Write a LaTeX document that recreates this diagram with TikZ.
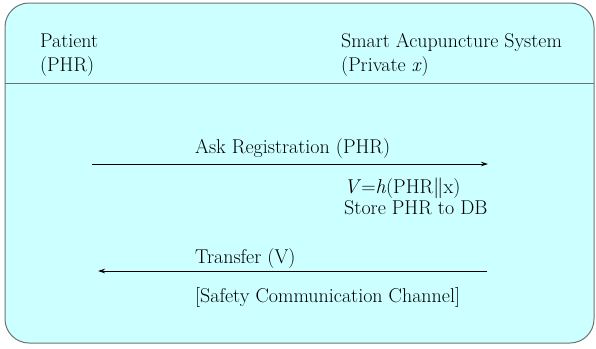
\documentclass[tikz,border=0pt]{standalone}
\usetikzlibrary{arrows.meta}
\definecolor{boxfill}{HTML}{CCFFFF}
\definecolor{boxline}{HTML}{6A7474}
\tikzset{
  lbl/.style={anchor=base west, inner sep=0pt, font=\fontsize{20}{24}\selectfont},
  hdr/.style={anchor=base west, inner sep=0pt, font=\fontsize{19.9}{24}\selectfont},
  msg/.style={draw=black, line width=0.8pt, -{Stealth[length=7pt,width=4.5pt]}}
}
\begin{document}
\begin{tikzpicture}[x=1pt,y=-1pt]
\useasboundingbox (0,0) rectangle (596,348);
\draw[boxline, fill=boxfill, line width=1pt, rounded corners=24pt] (5,3) rectangle (594,343);
\draw[boxline, line width=1pt] (5,83) -- (594,83);
\node[hdr] (pat1) at (40,47) {Patient};
\node[hdr] (pat2) at (40,71) {(PHR)};
\node[hdr] (sys1) at (341,47) {Smart Acupuncture System};
\node[hdr] (sys2) at (341,71) {(Private \textit{x})};
\coordinate (a1s) at (92,164);
\coordinate (a1e) at (488,164);
\draw[msg] (a1s) -- (a1e);
\node[lbl] (ask) at (195,153) {Ask Registration (PHR)};
\node[lbl] (hash) at (344,193) {\textit{V}=\textit{h}(PHR$\|$x)};
\node[lbl] (store) at (344,214) {Store PHR to DB};
\coordinate (a2s) at (487,271);
\coordinate (a2e) at (98,271);
\draw[msg] (a2s) -- (a2e);
\node[lbl] (trans) at (195,263) {Transfer (V)};
\node[lbl] (safe) at (195,302) {[Safety Communication Channel]};
\end{tikzpicture}
\end{document}
